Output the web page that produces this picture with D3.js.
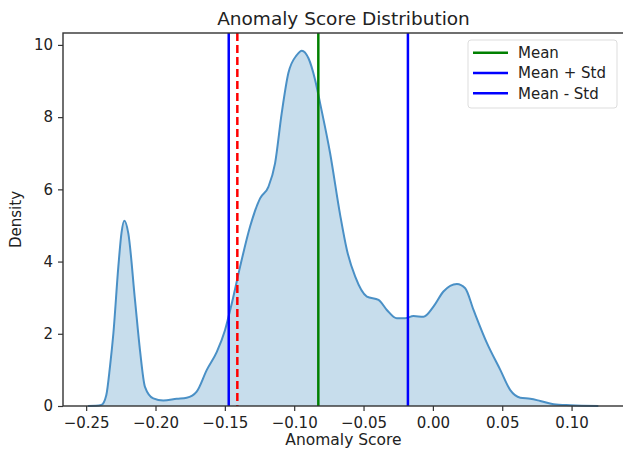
<!DOCTYPE html>
<html>
<head>
<meta charset="utf-8">
<script src="https://cdn.jsdelivr.net/npm/d3@7"></script>
<style>
  body { margin: 0; background: #fff; }
  text { font-family: "DejaVu Sans", sans-serif; fill: #222; }
</style>
</head>
<body>
<svg id="chart" width="623" height="450"></svg>
<script>
// KDE curve
const kdeX = [-0.2487, -0.243, -0.239, -0.2355, -0.2328, -0.2304, -0.2268, -0.2245, -0.2225, -0.2196,
  -0.2148, -0.2112, -0.2076, -0.2016, -0.1944, -0.1847, -0.1775, -0.1703, -0.163, -0.1558,
  -0.1499, -0.145, -0.139, -0.1318, -0.1246, -0.1186, -0.1138, -0.109, -0.1042, -0.0981,
  -0.0945, -0.0897, -0.0849, -0.0813, -0.0741, -0.0669, -0.062, -0.056, -0.0476, -0.0392,
  -0.0332, -0.026, -0.02, -0.014, -0.0068, 0.0004, 0.0076, 0.0173, 0.0233, 0.0293,
  0.039, 0.0486, 0.0558, 0.063, 0.0702, 0.0774, 0.087, 0.099, 0.1193];
const kdeY = [0, 0.005, 0.03, 0.3, 1.1, 2.0, 3.86, 4.8, 5.13, 4.78,
  2.94, 1.55, 0.53, 0.21, 0.15, 0.2, 0.23, 0.4, 1.0, 1.5,
  2.1, 2.84, 3.86, 4.97, 5.75, 6.07, 6.72, 8.11, 9.22, 9.72,
  9.84, 9.63, 9.03, 8.38, 7.0, 5.3, 4.32, 3.58, 3.03, 2.94,
  2.66, 2.43, 2.43, 2.49, 2.47, 2.75, 3.17, 3.38, 3.26, 2.66,
  1.74, 1.0, 0.44, 0.23, 0.2, 0.14, 0.05, 0.02, 0];

const meanScore = -0.0826;
const stdScore = 0.0646;
const threshold = -0.141;

const refLines = [
  { label: "Mean", value: meanScore, color: "green" },
  { label: "Mean + Std", value: meanScore + stdScore, color: "blue" },
  { label: "Mean - Std", value: meanScore - stdScore, color: "blue" }
];

const xTicks = [-0.25, -0.20, -0.15, -0.10, -0.05, 0.00, 0.05, 0.10];
const yTicks = [0, 2, 4, 6, 8, 10];

const svg = d3.select("#chart");
const plot = { left: 63, right: 624, top: 33, bottom: 406 };

const x = d3.scaleLinear().domain([-0.2667, 0.1378]).range([plot.left, plot.right]);
const y = d3.scaleLinear().domain([0, 10.33]).range([plot.bottom, plot.top]);

const points = kdeX.map((d, i) => [d, kdeY[i]]);

// filled density
svg.append("path")
  .datum(points)
  .attr("fill", "#1f77b4")
  .attr("fill-opacity", 0.25)
  .attr("d", d3.area().x(d => x(d[0])).y0(y(0)).y1(d => y(d[1])).curve(d3.curveMonotoneX));

svg.append("path")
  .datum(points)
  .attr("fill", "none")
  .attr("stroke", "#4a90c6")
  .attr("stroke-width", 2)
  .attr("d", d3.line().x(d => x(d[0])).y(d => y(d[1])).curve(d3.curveMonotoneX));

// vertical reference lines
svg.selectAll(".ref")
  .data(refLines)
  .join("line")
  .attr("class", "ref")
  .attr("x1", d => x(d.value)).attr("x2", d => x(d.value))
  .attr("y1", plot.top).attr("y2", plot.bottom)
  .attr("stroke", d => d.color)
  .attr("stroke-width", 2.5);

svg.append("line")
  .attr("x1", x(threshold)).attr("x2", x(threshold))
  .attr("y1", plot.top).attr("y2", plot.bottom)
  .attr("stroke", "red")
  .attr("stroke-width", 2.5)
  .attr("stroke-dasharray", "8,4");

// axes
const fmt = d => d3.format(".2f")(d).replace("-", "\u2212");
const xAxis = svg.append("g")
  .attr("transform", `translate(0,${plot.bottom})`)
  .call(d3.axisBottom(x).tickValues(xTicks).tickFormat(fmt).tickSize(5).tickPadding(6));
const yAxis = svg.append("g")
  .attr("transform", `translate(${plot.left},0)`)
  .call(d3.axisLeft(y).tickValues(yTicks).tickSize(5).tickPadding(5));

[xAxis, yAxis].forEach(a => {
  a.select(".domain").remove();
  a.selectAll("line").attr("stroke", "#333").attr("stroke-width", 1.2);
  a.selectAll("text").attr("font-size", 15).attr("fill", "#222")
    .attr("font-family", "DejaVu Sans, sans-serif");
});

// frame
svg.append("rect")
  .attr("x", plot.left).attr("y", plot.top)
  .attr("width", plot.right - plot.left).attr("height", plot.bottom - plot.top)
  .attr("fill", "none")
  .attr("stroke", "#333")
  .attr("stroke-width", 1.4);

// labels
svg.append("text")
  .attr("x", (plot.left + plot.right) / 2).attr("y", 25)
  .attr("text-anchor", "middle")
  .attr("font-size", 18.5)
  .text("Anomaly Score Distribution");

svg.append("text")
  .attr("x", (plot.left + plot.right) / 2).attr("y", 445)
  .attr("text-anchor", "middle")
  .attr("font-size", 15.5)
  .text("Anomaly Score");

svg.append("text")
  .attr("transform", `translate(21,${(plot.top + plot.bottom) / 2}) rotate(-90)`)
  .attr("text-anchor", "middle")
  .attr("font-size", 15)
  .text("Density");

// legend
const legend = svg.append("g").attr("transform", "translate(468,40)");
legend.append("rect")
  .attr("width", 149).attr("height", 68)
  .attr("rx", 3)
  .attr("fill", "#fff").attr("fill-opacity", 0.8)
  .attr("stroke", "#ddd");

const items = legend.selectAll(".item")
  .data(refLines)
  .join("g")
  .attr("class", "item")
  .attr("transform", (d, i) => `translate(0,${12.7 + i * 20.3})`);
items.append("line")
  .attr("x1", 5).attr("x2", 40)
  .attr("stroke", d => d.color)
  .attr("stroke-width", 2.5);
items.append("text")
  .attr("x", 50).attr("dy", "0.35em")
  .attr("font-size", 15)
  .text(d => d.label);
</script>
</body>
</html>
